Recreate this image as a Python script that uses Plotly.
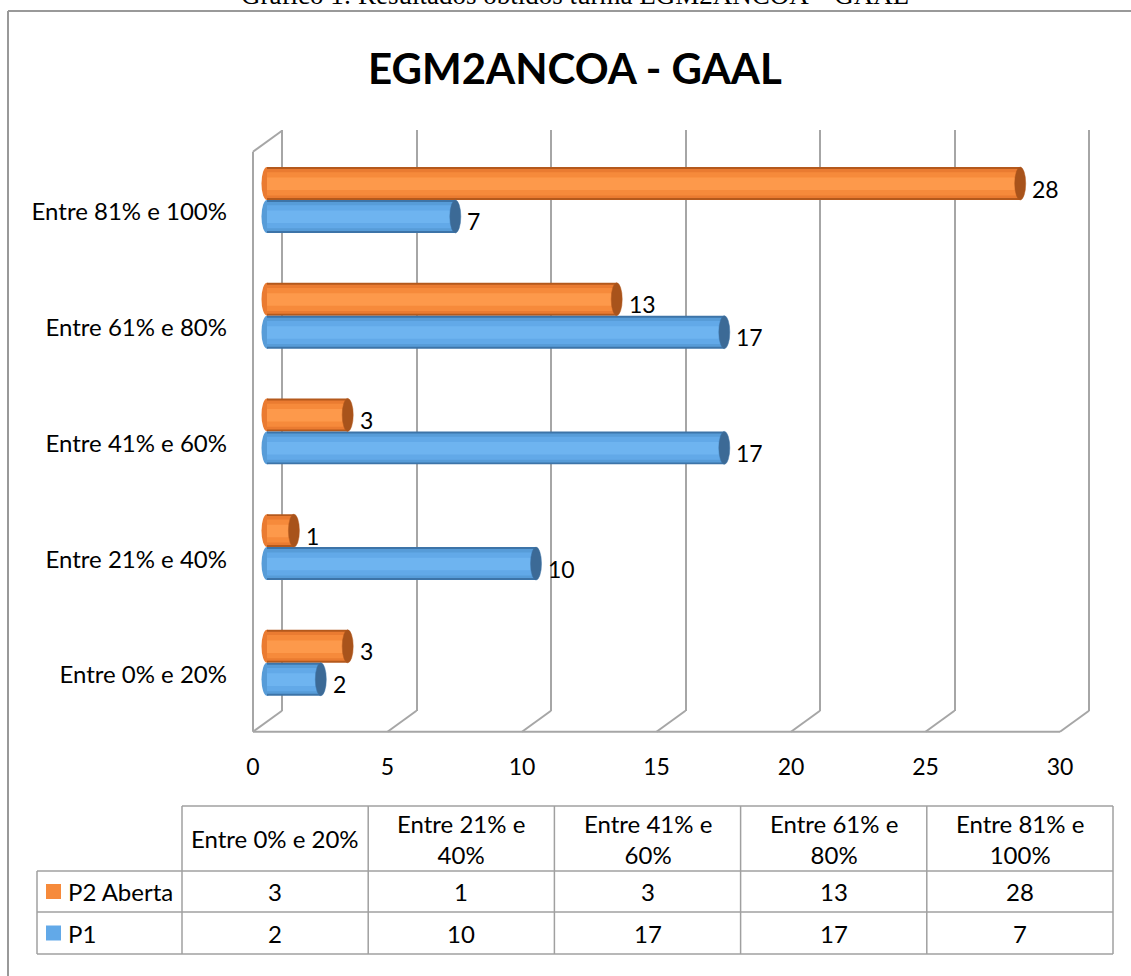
import plotly.graph_objects as go

# ---------------- data ----------------
categories = ["Entre 0% e 20%", "Entre 21% e 40%", "Entre 41% e 60%",
              "Entre 61% e 80%", "Entre 81% e 100%"]
header_labels = ["Entre 0% e 20%", "Entre 21% e<br>40%", "Entre 41% e<br>60%",
                 "Entre 61% e<br>80%", "Entre 81% e<br>100%"]
series_names = ["P2 Aberta", "P1"]
p2_aberta = [3, 1, 3, 13, 28]
p1 = [2, 10, 17, 17, 7]
x_ticks = [0, 5, 10, 15, 20, 25, 30]
title_text = "EGM2ANCOA - GAAL"
caption_text = "Gráfico 1: Resultados obtidos turma EGM2ANCOA – GAAL"

# ---------------- layout helpers ----------------
W, H = 1131, 976
FONT = "Lato"
GRAY = "#a6a6a6"


def px(x):
    return x / W


def py(y):
    return 1 - y / H


SCALE = 26.9  # px per unit


def xrange_for(origin):
    r0 = -origin / SCALE
    return [r0, r0 + W / SCALE]


BAR_W = 0.285
ORANGE = dict(edge="#b4591c", mid="#ea7b31", body="#f68a3b", hi="#fd994b", cap="#a8531b")
BLUE = dict(edge="#3d74a8", mid="#579cd8", body="#62a9e8", hi="#6eb4f0", cap="#3c6a96")

ypos = list(range(len(categories)))

fig = go.Figure()

# dummy traces so that the label axes (x/y) and back-wall grid axes (x2/y2) are drawn
fig.add_trace(go.Scatter(x=[None], y=[None], xaxis="x", yaxis="y", showlegend=False, hoverinfo="skip"))
fig.add_trace(go.Scatter(x=[None], y=[None], xaxis="x2", yaxis="y2", showlegend=False, hoverinfo="skip"))


def cylinder(values, colors, offset, name):
    layers = [
        (0.00, 1.00, colors["edge"]),
        (0.06, 0.88, colors["mid"]),
        (0.14, 0.70, colors["body"]),
        (0.30, 0.38, colors["hi"]),
    ]
    for start, frac, col in layers:
        fig.add_trace(go.Bar(
            x=values, y=ypos, orientation="h", base=0,
            width=BAR_W * frac, offset=offset + BAR_W * start,
            marker=dict(color=col, line=dict(width=0)),
            xaxis="x3", yaxis="y3", showlegend=False, hoverinfo="skip", name=name))


# orange above the category centre, blue below
cylinder(p2_aberta, ORANGE, 0.0, series_names[0])
cylinder(p1, BLUE, -BAR_W, series_names[1])

shapes = []
annotations = []

# bar caps (ellipses) and rounded left ends, plus value labels
for vals, colors, off in [(p2_aberta, ORANGE, 0.0), (p1, BLUE, -BAR_W)]:
    for i, v in enumerate(vals):
        shapes.append(dict(type="circle", xref="x3", yref="y3", xsizemode="pixel",
                           xanchor=0, x0=-5.5, x1=5.5, y0=i + off, y1=i + off + BAR_W,
                           fillcolor=colors["mid"], line=dict(width=0), layer="below"))
        shapes.append(dict(type="circle", xref="x3", yref="y3", xsizemode="pixel",
                           xanchor=v, x0=-5.5, x1=5.5, y0=i + off, y1=i + off + BAR_W,
                           fillcolor=colors["cap"], line=dict(color=colors["edge"], width=0.5)))
        annotations.append(dict(x=v, y=i + off + BAR_W / 2, xref="x3", yref="y3",
                                text=str(v), showarrow=False, xanchor="left", yanchor="middle",
                                xshift=10, yshift=-5,
                                font=dict(family=FONT, size=23, color="#000")))

# 3-D frame: floor diagonals, front floor edge, left wall
FLOOR_Y = 731.7
WALL_TOP = 151.7
DX, DY = 29.0, 21.0
FRAME = dict(color=GRAY, width=2)
for t in x_ticks:
    shapes.append(dict(type="line", xref="x", yref="paper", xsizemode="pixel", ysizemode="pixel",
                       xanchor=t, yanchor=py(FLOOR_Y), x0=0, x1=DX, y0=0, y1=DY, line=FRAME))
shapes.append(dict(type="line", xref="x", yref="paper", x0=x_ticks[0], x1=x_ticks[-1],
                   y0=py(FLOOR_Y), y1=py(FLOOR_Y), line=FRAME))
shapes.append(dict(type="line", xref="x", yref="paper", x0=x_ticks[0], x1=x_ticks[0],
                   y0=py(FLOOR_Y), y1=py(WALL_TOP), line=FRAME))
shapes.append(dict(type="line", xref="x", yref="paper", xsizemode="pixel", ysizemode="pixel",
                   xanchor=x_ticks[0], yanchor=py(WALL_TOP), x0=0, x1=DX, y0=0, y1=DY, line=FRAME))

# outer chart border (top & left visible)
shapes.append(dict(type="line", xref="paper", yref="paper", x0=px(8), x1=1, y0=py(11), y1=py(11),
                   line=dict(color="#999999", width=2)))
shapes.append(dict(type="line", xref="paper", yref="paper", x0=px(8), x1=px(8), y0=py(11), y1=0,
                   line=dict(color="#999999", width=2)))

# ---------------- data table ----------------
T_LEFT, T_C0, T_RIGHT = 37, 182, 1113
T_TOP, T_H1, T_R1, T_R2 = 806, 871, 912, 954
col_w = (T_RIGHT - T_C0) / len(categories)
col_x = [T_C0 + k * col_w for k in range(len(categories) + 1)]
TBL = dict(color="#a0a0a0", width=1.5)
shapes.append(dict(type="line", xref="paper", yref="paper", x0=px(T_C0), x1=px(T_RIGHT),
                   y0=py(T_TOP), y1=py(T_TOP), line=TBL))
for yy in (T_H1, T_R1, T_R2):
    shapes.append(dict(type="line", xref="paper", yref="paper", x0=px(T_LEFT), x1=px(T_RIGHT),
                       y0=py(yy), y1=py(yy), line=TBL))
shapes.append(dict(type="line", xref="paper", yref="paper", x0=px(T_LEFT), x1=px(T_LEFT),
                   y0=py(T_H1), y1=py(T_R2), line=TBL))
for xx in col_x:
    shapes.append(dict(type="line", xref="paper", yref="paper", x0=px(xx), x1=px(xx),
                       y0=py(T_TOP), y1=py(T_R2), line=TBL))

TFONT = dict(family=FONT, size=24, color="#000")
for k, lab in enumerate(header_labels):
    annotations.append(dict(x=px((col_x[k] + col_x[k + 1]) / 2), y=py((T_TOP + T_H1) / 2),
                            xref="paper", yref="paper", text=lab, showarrow=False,
                            xanchor="center", yanchor="middle", font=TFONT, align="center"))
rows = [(series_names[0], p2_aberta, ORANGE["body"], T_H1, T_R1),
        (series_names[1], p1, BLUE["body"], T_R1, T_R2)]
for name, vals, col, y0, y1 in rows:
    yc = (y0 + y1) / 2
    shapes.append(dict(type="rect", xref="paper", yref="paper",
                       x0=px(46), x1=px(61), y0=py(yc - 7.5), y1=py(yc + 7.5),
                       fillcolor=col, line=dict(width=0)))
    annotations.append(dict(x=px(66), y=py(yc), xref="paper", yref="paper", text=name,
                            showarrow=False, xanchor="left", yanchor="middle", font=TFONT))
    for k, v in enumerate(vals):
        annotations.append(dict(x=px((col_x[k] + col_x[k + 1]) / 2), y=py(yc),
                                xref="paper", yref="paper", text=str(v), showarrow=False,
                                xanchor="center", yanchor="middle", font=TFONT))

# title & cut-off caption
annotations.append(dict(x=px(575), y=py(68), xref="paper", yref="paper", text=f"<b>{title_text}</b>",
                        showarrow=False, xanchor="center", yanchor="middle",
                        font=dict(family=FONT, size=42, color="#000")))
annotations.append(dict(x=px(575), y=py(12), xref="paper", yref="paper", text=caption_text,
                        showarrow=False, xanchor="center", yanchor="bottom",
                        font=dict(family="Liberation Serif", size=27, color="#000")))

fig.update_layout(
    width=W, height=H, autosize=False,
    margin=dict(l=0, r=0, t=0, b=0, pad=0),
    paper_bgcolor="white", plot_bgcolor="rgba(0,0,0,0)",
    barmode="overlay", showlegend=False,
    font=dict(family=FONT, size=22, color="#000"),
    # front axes: tick labels only
    xaxis=dict(domain=[0, 1], range=xrange_for(253), anchor="free", position=py(751),
               tickvals=x_ticks, ticktext=[str(t) for t in x_ticks], showgrid=False,
               zeroline=False, showline=False, ticks="", tickfont=dict(family=FONT, size=23)),
    yaxis=dict(domain=[py(732.65), py(154.15)], range=[-0.5, len(categories) - 0.5],
               anchor="free", position=px(227), tickvals=ypos, ticktext=categories,
               showgrid=False, zeroline=False, showline=False, ticks="",
               tickfont=dict(family=FONT, size=24)),
    # back wall grid
    xaxis2=dict(domain=[0, 1], range=xrange_for(282), anchor="y2",
                tickvals=x_ticks, showticklabels=False, showgrid=True, gridcolor=GRAY,
                gridwidth=2, zeroline=False, showline=False, ticks=""),
    yaxis2=dict(domain=[py(710.5), py(130)], range=[0, 1], anchor="x2",
                showgrid=False, zeroline=False, showline=False, showticklabels=False, ticks=""),
    # bar axes
    xaxis3=dict(domain=[0, 1], range=xrange_for(267), anchor="y3", visible=False),
    yaxis3=dict(domain=[py(720.65), py(142.15)], range=[-0.5, len(categories) - 0.5],
                anchor="x3", visible=False),
    shapes=shapes, annotations=annotations,
)

fig.write_html("out.html", config={"displayModeBar": False},
               post_script="document.body.style.margin='0px';document.body.style.overflow='hidden';")
